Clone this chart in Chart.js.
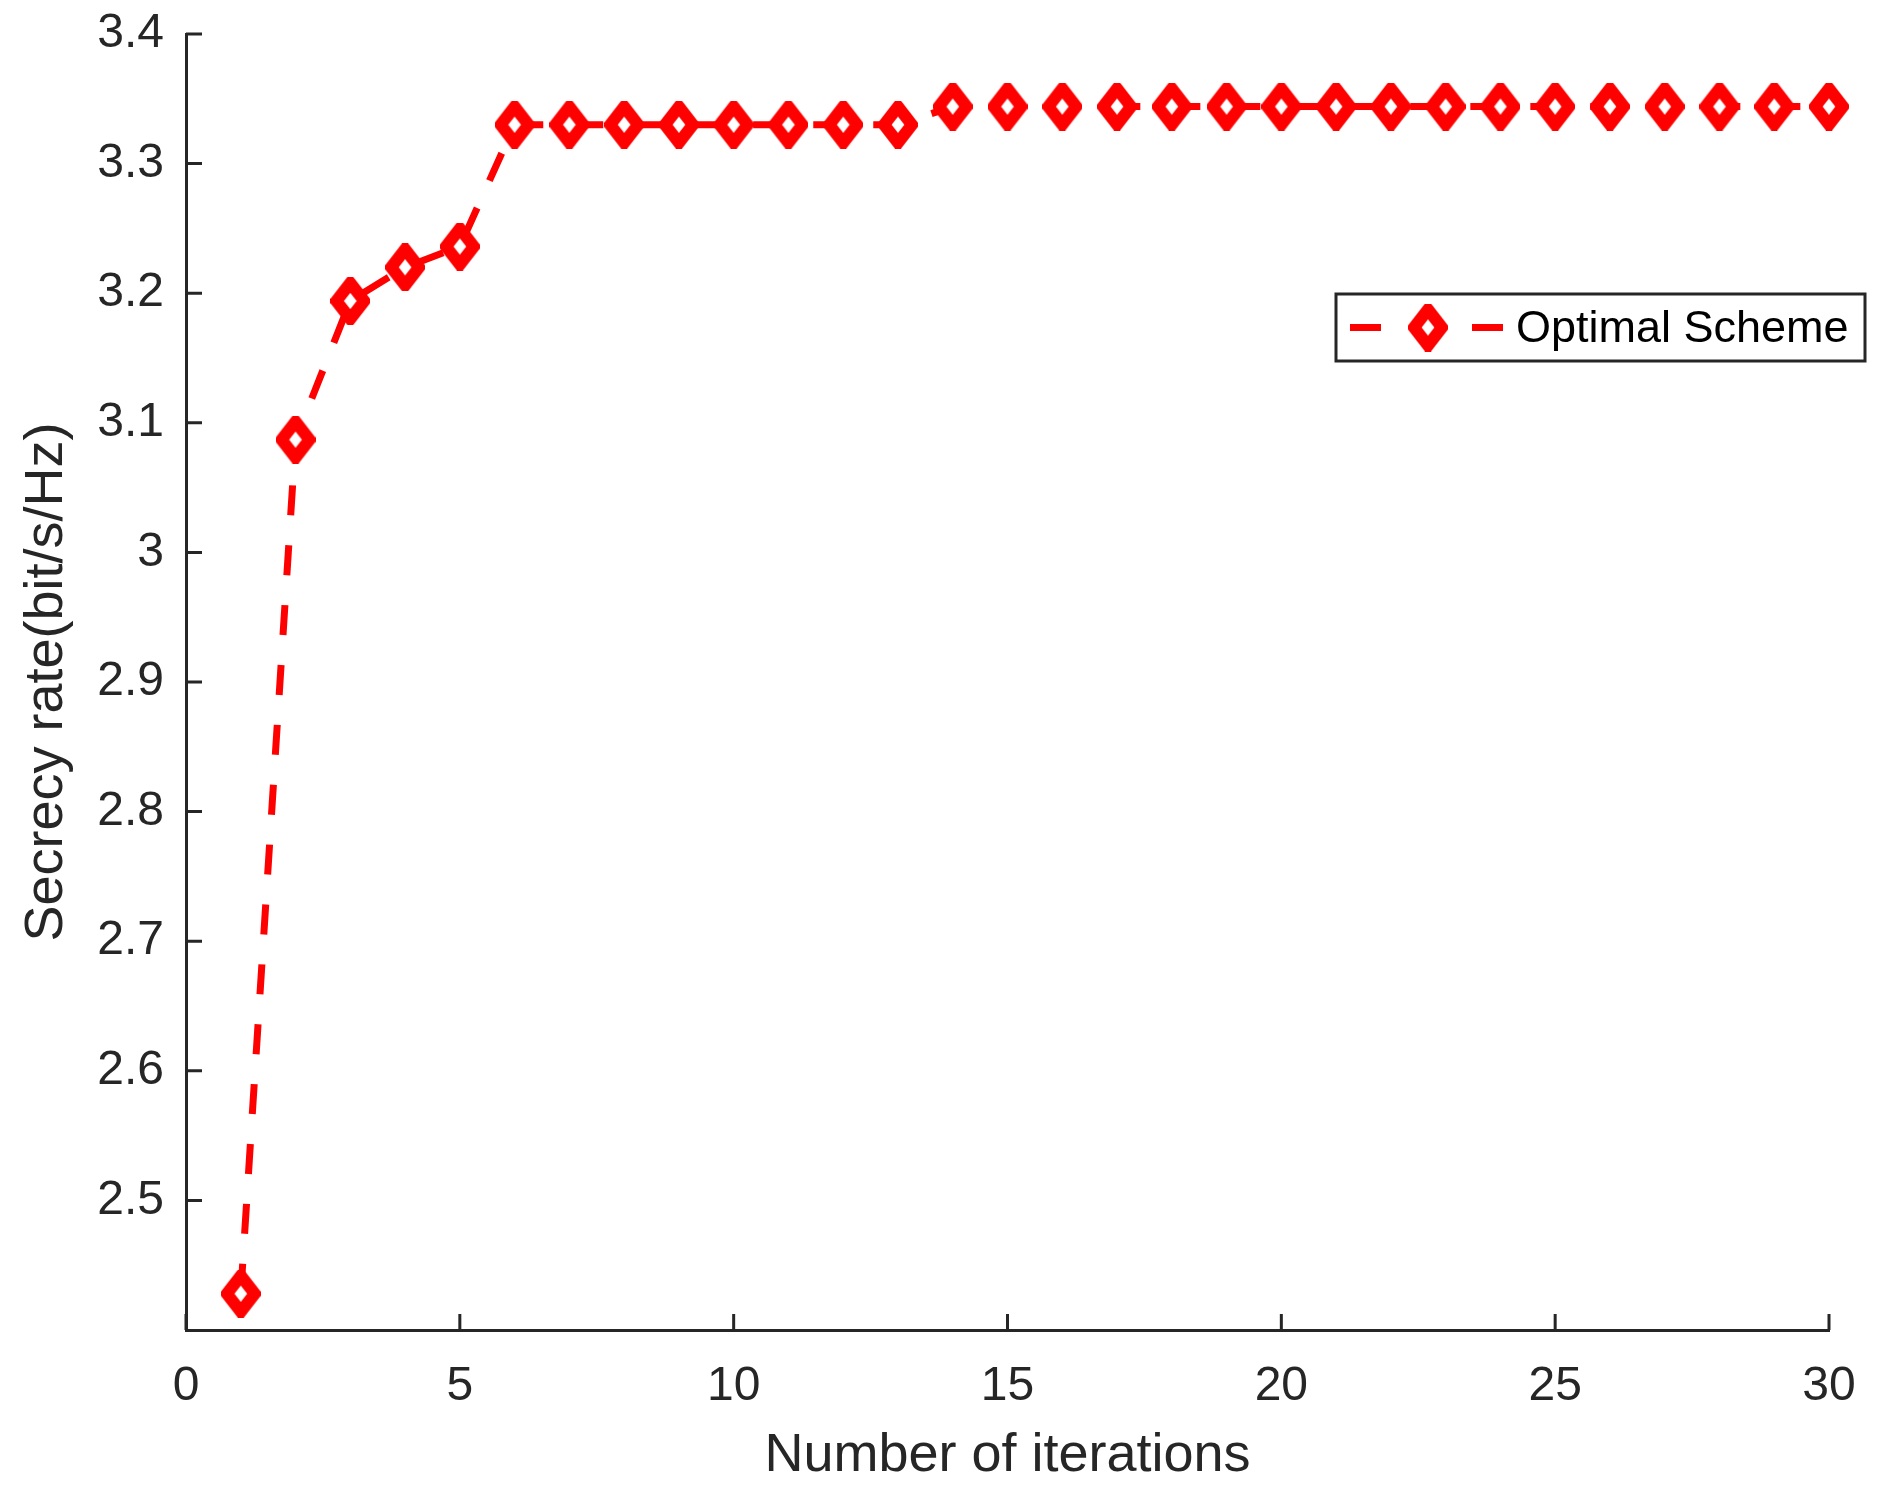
<!DOCTYPE html>
<html><head><meta charset="utf-8">
<script src="https://cdn.jsdelivr.net/npm/chart.js@4/dist/chart.umd.min.js"></script>
<style>html,body{margin:0;padding:0;background:#fff}#wrap{width:1884px;height:1485px}</style>
</head><body><div id="wrap"><canvas id="c" width="1884" height="1485"></canvas></div>
<script>
const iterations = [1,2,3,4,5,6,7,8,9,10,11,12,13,14,15,16,17,18,19,20,21,22,23,24,25,26,27,28,29,30];
const secrecyRate = [2.428,3.087,3.194,3.220,3.236,
  3.330,3.330,3.330,3.330,3.330,3.330,3.330,3.330,
  3.344,3.344,3.344,3.344,3.344,3.344,3.344,3.344,3.344,3.344,3.344,3.344,3.344,3.344,3.344,3.344,3.344];
const xTicks = [0,5,10,15,20,25,30];
const yTicks = [2.5,2.6,2.7,2.8,2.9,3.0,3.1,3.2,3.3,3.4];
const seriesLabel = 'Optimal Scheme';
const xTitle = 'Number of iterations';
const yTitle = 'Secrecy rate(bit/s/Hz)';

const RED = '#ff0000';
const INK = '#262626';
const FONT = 'Liberation Sans';

function diamond(w, h, lw) {
  const c = document.createElement('canvas');
  c.width = w; c.height = h;
  const g = c.getContext('2d');
  g.beginPath();
  g.moveTo(w/2, lw/2); g.lineTo(w - lw/2, h/2); g.lineTo(w/2, h - lw/2); g.lineTo(lw/2, h/2);
  g.closePath();
  g.fillStyle = '#fff'; g.fill();
  g.lineWidth = lw; g.strokeStyle = RED; g.lineJoin = 'miter'; g.stroke();
  return c;
}
const marker = diamond(40, 48, 12);

const inwardTicks = {
  id: 'inwardTicks',
  afterDraw(chart) {
    const {ctx, chartArea: a, scales: {x, y}} = chart;
    ctx.save();
    ctx.strokeStyle = INK; ctx.lineWidth = 3;
    ctx.beginPath();
    x.ticks.forEach(t => { const p = x.getPixelForValue(t.value); ctx.moveTo(p, a.bottom); ctx.lineTo(p, a.bottom - 16); });
    y.ticks.forEach(t => { const p = y.getPixelForValue(t.value); ctx.moveTo(a.left, p); ctx.lineTo(a.left + 16, p); });
    ctx.stroke();
    ctx.restore();
  }
};

const boxLegend = {
  id: 'boxLegend',
  afterDraw(chart) {
    const {ctx, chartArea: a} = chart;
    const ds = chart.data.datasets[0];
    const L = a.right - 493, T = 294, W = 529, H = 67;
    const cy = T + H/2;
    ctx.save();
    ctx.fillStyle = '#fff'; ctx.fillRect(L, T, W, H);
    ctx.strokeStyle = INK; ctx.lineWidth = 3; ctx.strokeRect(L, T, W, H);
    ctx.strokeStyle = ds.borderColor; ctx.lineWidth = ds.borderWidth;
    ctx.beginPath();
    ctx.moveTo(L + 14, cy); ctx.lineTo(L + 45, cy);
    ctx.moveTo(L + 136, cy); ctx.lineTo(L + 167, cy);
    ctx.stroke();
    ctx.drawImage(marker, L + 92 - marker.width/2, cy - marker.height/2);
    ctx.fillStyle = '#000'; ctx.font = '45px "' + FONT + '"';
    ctx.textBaseline = 'middle'; ctx.textAlign = 'left';
    ctx.fillText(ds.label, L + 180, cy + 2);
    ctx.restore();
  }
};

new Chart(document.getElementById('c').getContext('2d'), {
  type: 'line',
  data: {
    datasets: [{
      label: seriesLabel,
      data: iterations.map((v, i) => ({x: v, y: secrecyRate[i]})),
      borderColor: RED, borderWidth: 7, borderDash: [30, 30],
      pointStyle: marker, pointRadius: 24, pointHoverRadius: 24,
      fill: false, tension: 0, clip: false
    }]
  },
  options: {
    responsive: false, animation: false,
    layout: {padding: {left: 0, right: 55, top: 34, bottom: 0}},
    plugins: {legend: {display: false}, tooltip: {enabled: false}},
    scales: {
      x: {
        type: 'linear', min: 0, max: 30,
        afterBuildTicks: s => { s.ticks = xTicks.map(v => ({value: v})); },
        afterFit: s => { s.height = 155; s.paddingLeft = 0; s.paddingRight = 0; },
        grid: {display: true, drawOnChartArea: false, drawTicks: false},
        border: {display: true, color: INK, width: 3},
        ticks: {color: INK, font: {family: FONT, size: 48}, padding: 28, maxRotation: 0, autoSkip: false},
        title: {display: true, text: xTitle, color: INK, font: {family: FONT, size: 54, lineHeight: 1}, padding: {top: 0, bottom: 2}}
      },
      y: {
        type: 'linear', min: 2.4, max: 3.4,
        afterBuildTicks: s => { s.ticks = yTicks.map(v => ({value: v})); },
        afterFit: s => { s.width = 186; s.paddingTop = 0; s.paddingBottom = 0; },
        grid: {display: true, drawOnChartArea: false, drawTicks: false},
        border: {display: true, color: INK, width: 3},
        ticks: {color: INK, font: {family: FONT, size: 48}, padding: 22, autoSkip: false,
                callback: v => String(+Number(v).toFixed(1))},
        title: {display: true, text: yTitle, color: INK, font: {family: FONT, size: 54, lineHeight: 1}, padding: {top: 20, bottom: 0}}
      }
    }
  },
  plugins: [inwardTicks, boxLegend]
});
</script></body></html>
